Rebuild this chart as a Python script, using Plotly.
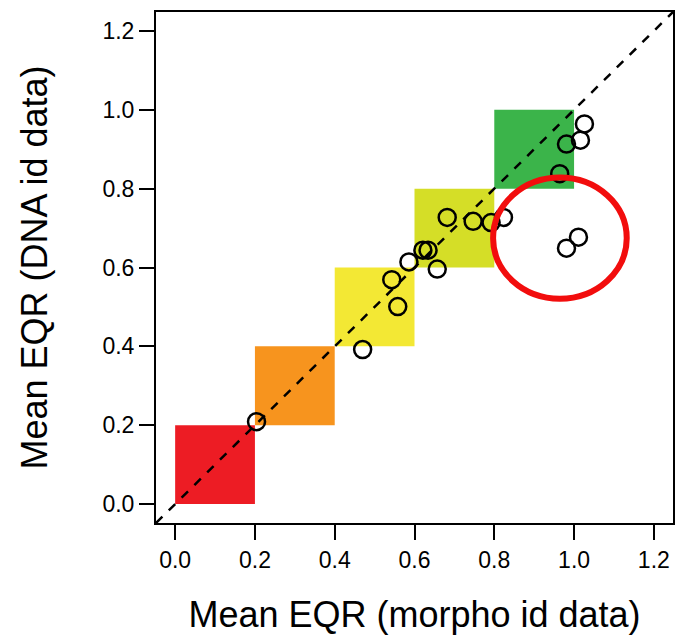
import plotly.graph_objects as go

# Data
morpho_eqr = [0.204, 0.470, 0.543, 0.558, 0.586, 0.621, 0.634, 0.657, 0.682,
              0.747, 0.792, 0.823, 0.964, 0.981, 1.016, 1.026, 0.981, 1.011]
dna_eqr = [0.209, 0.392, 0.569, 0.501, 0.614, 0.644, 0.644, 0.596, 0.727,
           0.717, 0.714, 0.727, 0.838, 0.913, 0.923, 0.964, 0.649, 0.677]

class_bounds = [0.0, 0.2, 0.4, 0.6, 0.8, 1.0]
class_colors = ["#ED1C24", "#F7941E", "#F3E834", "#D5DE27", "#3BB44A"]

highlight_x = [0.797, 1.132]
highlight_y = [0.521, 0.828]

tick_vals = [0.0, 0.2, 0.4, 0.6, 0.8, 1.0, 1.2]
tick_text = ["0.0", "0.2", "0.4", "0.6", "0.8", "1.0", "1.2"]
axis_range = [-0.048, 1.248]

FONT = "Liberation Sans, Arial, Helvetica, sans-serif"

fig = go.Figure()

# 1:1 reference line
fig.add_trace(go.Scatter(
    x=axis_range, y=axis_range, mode="lines",
    line=dict(color="black", width=2.5, dash="9px,9px"),
    hoverinfo="skip", showlegend=False))

# points
fig.add_trace(go.Scatter(
    x=morpho_eqr, y=dna_eqr, mode="markers",
    marker=dict(symbol="circle-open", size=17, color="black",
                line=dict(width=2.5, color="black")),
    showlegend=False))

shapes = []
for i, c in enumerate(class_colors):
    shapes.append(dict(type="rect", xref="x", yref="y",
                       x0=class_bounds[i], x1=class_bounds[i + 1],
                       y0=class_bounds[i], y1=class_bounds[i + 1],
                       fillcolor=c, line=dict(width=0), layer="below"))
shapes.append(dict(type="circle", xref="x", yref="y",
                   x0=highlight_x[0], x1=highlight_x[1],
                   y0=highlight_y[0], y1=highlight_y[1],
                   line=dict(color="#F20D0D", width=6), layer="above"))

axis_common = dict(
    range=axis_range, tickvals=tick_vals, ticktext=tick_text,
    showgrid=False, zeroline=False, showline=True, mirror=True,
    linecolor="black", linewidth=2, ticks="outside", ticklen=15,
    tickwidth=2, tickcolor="black",
    tickfont=dict(family=FONT, size=23, color="black"),
)

fig.update_layout(
    width=691, height=638,
    margin=dict(l=156, r=18, t=10, b=114),
    paper_bgcolor="white", plot_bgcolor="white",
    shapes=shapes,
    font=dict(family=FONT, color="black"),
    xaxis=dict(**axis_common,
               title=dict(text="Mean EQR (morpho id data)",
                          font=dict(family=FONT, size=36, color="black"),
                          standoff=30)),
    yaxis=dict(**axis_common,
               title=dict(text="Mean EQR (DNA id data)",
                          font=dict(family=FONT, size=36, color="black"),
                          standoff=44)),
)

fig.write_html("out.html")
